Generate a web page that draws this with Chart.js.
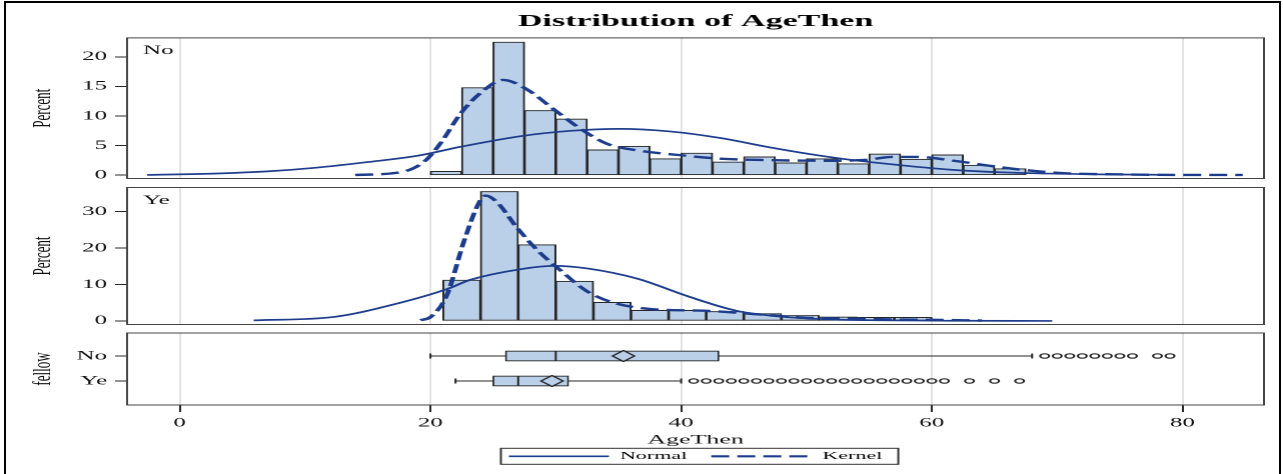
<!DOCTYPE html>
<html>
<head>
<meta charset="utf-8">
<title>Distribution of AgeThen</title>
<script src="https://cdn.jsdelivr.net/npm/chart.js@4.4.1/dist/chart.umd.min.js"></script>
<style>
  html, body { margin: 0; padding: 0; background: #fff; width: 1283px; height: 474px; overflow: hidden; }
  #frame { position: absolute; left: 4px; top: 1px; width: 1273px; height: 520px; border: 2px solid #000; }
  /* the graph is laid out at half width and widened 2x, giving the wide SAS-style lettering */
  #stretch { position: absolute; left: 0; top: 0; width: 641.5px; height: 474px; transform: scaleX(2); transform-origin: 0 0; }
  .pane { position: absolute; left: 0; width: 641.5px; }
</style>
</head>
<body>
<div id="frame"></div>
<div id="stretch">
  <div class="pane" style="top:0px;height:190px"><canvas id="histNo"></canvas></div>
  <div class="pane" style="top:176px;height:160px"><canvas id="histYe"></canvas></div>
  <div class="pane" style="top:320px;height:154px"><canvas id="boxes"></canvas></div>
</div>
<script>
// ---- data ----
const groups = ['No', 'Ye'];

// histogram, fellow = No (bin width 2.5)
const noBinMid  = [21.25, 23.75, 26.25, 28.75, 31.25, 33.75, 36.25, 38.75, 41.25, 43.75, 46.25, 48.75, 51.25, 53.75, 56.25, 58.75, 61.25, 63.75, 66.25];
const noPercent = [0.67, 14.8, 22.5, 10.95, 9.5, 4.3, 4.9, 2.8, 3.75, 2.25, 3.1, 2.1, 2.8, 1.95, 3.6, 2.7, 3.45, 1.7, 1.1];

// histogram, fellow = Ye (bin width 3)
const yeBinMid  = [22.5, 25.5, 28.5, 31.5, 34.5, 37.5, 40.5, 43.5, 46.5, 49.5, 52.5, 55.5, 58.5];
const yePercent = [11.2, 35.5, 20.9, 10.9, 5.1, 2.9, 2.9, 2.6, 2.0, 1.5, 1.1, 1.0, 1.0];

// fitted curves
const noNormalX = [-2.6, 3, 7, 11, 14.9, 19, 22.4, 27.2, 31.2, 35.1, 39.1, 43.1, 47.1, 51.1, 53.5, 57.5, 61.4, 65.4, 69.4, 73.4, 78];
const noNormalY = [0.05, 0.3, 0.65, 1.3, 2.2, 3.3, 4.8, 6.6, 7.5, 7.83, 7.4, 6.3, 4.7, 3.3, 2.6, 1.7, 0.95, 0.5, 0.28, 0.15, 0.08];
const noKernelX = [14.0, 17.6, 19.5, 20.8, 22.4, 24.0, 25.8, 27.7, 29.8, 32.0, 34.1, 36.5, 39.9, 43.1, 47.1, 51.1, 54.8, 56.8, 58.8, 61.4, 64.6, 67.3, 70.7, 74.7, 80.0, 84.8];
const noKernelY = [0.05, 0.5, 2.3, 5.4, 10.4, 13.9, 16.1, 14.5, 11.2, 7.8, 5.3, 4.2, 3.4, 2.8, 2.55, 2.45, 2.6, 3.1, 3.1, 2.55, 1.6, 0.9, 0.33, 0.15, 0.05, 0.05];
const yeNormalX = [5.9, 12.3, 17.6, 21.3, 23.2, 27.2, 29.8, 32.5, 36.5, 40.5, 44.4, 48.4, 52.4, 55.1, 62, 69.6];
const yeNormalY = [0.15, 1.1, 5.0, 8.7, 11.3, 14.2, 15.1, 14.4, 11.6, 6.8, 2.8, 1.05, 0.35, 0.2, 0.05, 0.0];
const yeKernelX = [19.2, 20.0, 21.3, 22.7, 23.9, 24.4, 25.3, 26.9, 28.5, 30.4, 32.5, 34.6, 37.8, 41.8, 45.8, 49.7, 53.7, 57.0, 60.0, 64.0];
const yeKernelY = [0.2, 1.05, 7.0, 22.1, 32.6, 34.4, 32.6, 25.6, 19.5, 13.8, 8.1, 5.0, 3.2, 2.8, 1.9, 0.9, 0.6, 0.4, 0.3, 0.1];

// box plot summary per group
const boxMin    = [20, 22];
const boxQ1     = [26, 25];
const boxMedian = [30, 27];
const boxQ3     = [43, 31];
const boxMax    = [68, 40];
const boxMean   = [35.4, 29.7];
const outliersNo = [69, 70, 71, 72, 73, 74, 75, 76, 78, 79];
const outliersYe = [41, 42, 43, 44, 45, 46, 47, 48, 49, 50, 51, 52, 53, 54, 55, 56, 57, 58, 59, 60, 61, 63, 65, 67];

const legendNames = ['Normal', 'Kernel'];

// ---- styling ----
const SERIF = "'Liberation Serif','Times New Roman',serif";
const INK = '#111';
const CURVE = '#1d3d8c';
const FILL = '#bacfe8';
const EDGE = '#262626';
const GRID = '#e2e2e2';
const X_MIN = -4.2, X_MAX = 86.5;
const AXIS_W = 63.5;

Chart.defaults.font.family = SERIF;
Chart.defaults.color = INK;

const pairs = (xs, ys) => xs.map((x, i) => ({ x, y: ys[i] }));

// border round each panel
const panelFrame = {
  id: 'panelFrame',
  afterDraw(chart) {
    const { ctx, chartArea: a } = chart;
    ctx.save();
    ctx.strokeStyle = '#444';
    ctx.lineWidth = 1;
    ctx.strokeRect(a.left, a.top, a.right - a.left, a.bottom - a.top);
    ctx.restore();
  }
};

// group name in the panel's upper-left corner
const panelLabel = {
  id: 'panelLabel',
  afterDraw(chart, args, opts) {
    if (!opts.text) return;
    const { ctx, chartArea: a } = chart;
    ctx.save();
    ctx.font = '12.5px ' + SERIF;
    ctx.fillStyle = INK;
    ctx.textBaseline = 'middle';
    ctx.fillText(opts.text, a.left + 8, a.top + 13);
    ctx.restore();
  }
};

// box drawn round the legend entries
const legendFrame = {
  id: 'legendFrame',
  afterDraw(chart) {
    const lg = chart.legend;
    if (!lg || !lg.legendHitBoxes || !lg.legendHitBoxes.length) return;
    const hb = lg.legendHitBoxes;
    const first = hb[0], last = hb[hb.length - 1];
    const cy = first.top + first.height / 2;
    const { ctx } = chart;
    ctx.save();
    ctx.strokeStyle = '#333';
    ctx.lineWidth = 1;
    ctx.strokeRect(first.left - 4, cy - 8, last.left + last.width + 8 - (first.left - 4), 16);
    ctx.restore();
  }
};

function histXAxis() {
  return {
    type: 'linear', min: X_MIN, max: X_MAX, offset: false,
    ticks: { display: false, stepSize: 20, includeBounds: false },
    grid: { color: GRID, lineWidth: 1, drawTicks: false, offset: false },
    border: { display: false }
  };
}

function percentAxis(min, max, step) {
  return {
    type: 'linear', min, max, offset: false,
    afterFit(s) { s.width = AXIS_W; },
    ticks: { stepSize: step, includeBounds: false, padding: 4, font: { size: 12.5 }, color: INK },
    grid: { drawOnChartArea: false, drawTicks: true, tickLength: 6, tickColor: EDGE, tickWidth: 1, offset: false },
    border: { display: false },
    title: { display: true, text: 'Percent', font: { size: 13 }, color: INK, padding: { top: 14, bottom: 0 } }
  };
}

function histDatasets(mid, pct, nx, ny, kx, ky) {
  return [
    { type: 'line', data: pairs(kx, ky), borderColor: CURVE, borderWidth: 2.4, borderDash: [9, 4],
      pointRadius: 0, fill: false, cubicInterpolationMode: 'monotone', order: 0 },
    { type: 'line', data: pairs(nx, ny), borderColor: CURVE, borderWidth: 1.7,
      pointRadius: 0, fill: false, cubicInterpolationMode: 'monotone', order: 1 },
    { type: 'bar', data: pairs(mid, pct), backgroundColor: FILL, borderColor: EDGE, borderWidth: 1,
      borderSkipped: false, barPercentage: 1, categoryPercentage: 1, order: 2 }
  ];
}

const common = { responsive: true, maintainAspectRatio: false, animation: false, devicePixelRatio: 2, events: [] };

// ---- panel 1: fellow = No ----
new Chart(document.getElementById('histNo'), {
  type: 'bar',
  data: { datasets: histDatasets(noBinMid, noPercent, noNormalX, noNormalY, noKernelX, noKernelY) },
  options: Object.assign({}, common, {
    layout: { padding: { left: 0, right: 10, top: 0, bottom: 10 } },
    plugins: {
      legend: { display: false },
      tooltip: { enabled: false },
      title: { display: true, text: 'Distribution of AgeThen', fullSize: false, color: '#000',
               font: { size: 17, weight: 'bold' }, padding: { top: 11.5, bottom: 6 } },
      panelLabel: { text: groups[0] }
    },
    scales: { x: histXAxis(), y: percentAxis(-0.55, 23.2, 5) }
  }),
  plugins: [panelFrame, panelLabel]
});

// ---- panel 2: fellow = Ye ----
new Chart(document.getElementById('histYe'), {
  type: 'bar',
  data: { datasets: histDatasets(yeBinMid, yePercent, yeNormalX, yeNormalY, yeKernelX, yeKernelY) },
  options: Object.assign({}, common, {
    layout: { padding: { left: 0, right: 10, top: 9, bottom: 9 } },
    plugins: {
      legend: { display: false },
      tooltip: { enabled: false },
      panelLabel: { text: groups[1] }
    },
    scales: { x: histXAxis(), y: percentAxis(-0.98, 36.6, 10) }
  }),
  plugins: [panelFrame, panelLabel]
});

// ---- panel 3: box plots ----
const boxSets = [];
groups.forEach((g, i) => {
  const y = i + 1;
  const seg = (pts, w, ord) => ({ type: 'line', data: pts, borderColor: EDGE, borderWidth: w,
                                  pointRadius: 0, fill: false, order: ord });
  boxSets.push(seg([{ x: boxMin[i], y }, { x: boxMax[i], y }], 0.9, 5));                 // whisker
  boxSets.push(seg([{ x: boxMin[i], y: y - 0.1 }, { x: boxMin[i], y: y + 0.1 }], 1, 1)); // lower cap
  boxSets.push(seg([{ x: boxMax[i], y: y - 0.1 }, { x: boxMax[i], y: y + 0.1 }], 1, 1)); // upper cap
  boxSets.push(seg([{ x: boxMedian[i], y: y - 0.2 }, { x: boxMedian[i], y: y + 0.2 }], 1, 1)); // median
});
boxSets.push({
  type: 'bar', indexAxis: 'y',
  data: groups.map((g, i) => ({ x: [boxQ1[i], boxQ3[i]], y: i + 1 })),
  backgroundColor: FILL, borderColor: EDGE, borderWidth: 0.9, borderSkipped: false,
  barThickness: 10, order: 3
});
boxSets.push({
  type: 'scatter',
  data: groups.map((g, i) => ({ x: boxMean[i], y: i + 1 })),
  pointStyle: 'rectRot', pointRadius: 5.5, backgroundColor: FILL, borderColor: EDGE, borderWidth: 1.1, order: 0
});
boxSets.push({
  type: 'scatter',
  data: outliersNo.map(v => ({ x: v, y: 1 })).concat(outliersYe.map(v => ({ x: v, y: 2 }))),
  pointStyle: 'circle', pointRadius: 2.2, backgroundColor: 'rgba(255,255,255,0)', borderColor: EDGE,
  borderWidth: 1.1, order: 0
});

new Chart(document.getElementById('boxes'), {
  type: 'bar',
  data: { datasets: boxSets },
  options: Object.assign({}, common, {
    layout: { padding: { left: 0, right: 10, top: 13, bottom: 2.2 } },
    plugins: {
      tooltip: { enabled: false },
      legend: {
        display: true, position: 'bottom', fullSize: false,
        labels: {
          usePointStyle: true, pointStyleWidth: 50, boxHeight: 11, padding: 12,
          font: { size: 11 }, color: INK,
          generateLabels: () => [
            { text: legendNames[0], pointStyle: 'line', strokeStyle: CURVE, fillStyle: CURVE,
              lineWidth: 1.7, lineDash: [], hidden: false, datasetIndex: 0 },
            { text: legendNames[1], pointStyle: 'line', strokeStyle: CURVE, fillStyle: CURVE,
              lineWidth: 2.2, lineDash: [9, 4], hidden: false, datasetIndex: 1 }
          ]
        }
      }
    },
    scales: {
      x: {
        type: 'linear', min: X_MIN, max: X_MAX, offset: false,
        afterFit(s) { s.height = 33.8; },
        ticks: { stepSize: 20, includeBounds: false, padding: 3.5, maxRotation: 0, font: { size: 12.5 }, color: INK },
        grid: { color: GRID, lineWidth: 1, drawTicks: true, tickLength: 7, tickColor: EDGE, tickWidth: 1, offset: false },
        border: { display: false },
        title: { display: true, text: 'AgeThen', font: { size: 13 }, color: INK, padding: { top: 0, bottom: -9 } }
      },
      y: {
        type: 'linear', min: 0.08, max: 2.96, reverse: true, offset: false,
        afterFit(s) { s.width = AXIS_W; },
        afterBuildTicks(s) { s.ticks = groups.map((g, i) => ({ value: i + 1 })); },
        ticks: { callback: v => groups[v - 1] ?? '', padding: 4, font: { size: 12.5 }, color: INK },
        grid: { drawOnChartArea: false, drawTicks: true, tickLength: 6, tickColor: EDGE, tickWidth: 1, offset: false },
        border: { display: false },
        title: { display: true, text: 'fellow', font: { size: 13 }, color: INK, padding: { top: 14, bottom: 0 } }
      }
    }
  }),
  plugins: [panelFrame, legendFrame]
});
</script>
</body>
</html>
